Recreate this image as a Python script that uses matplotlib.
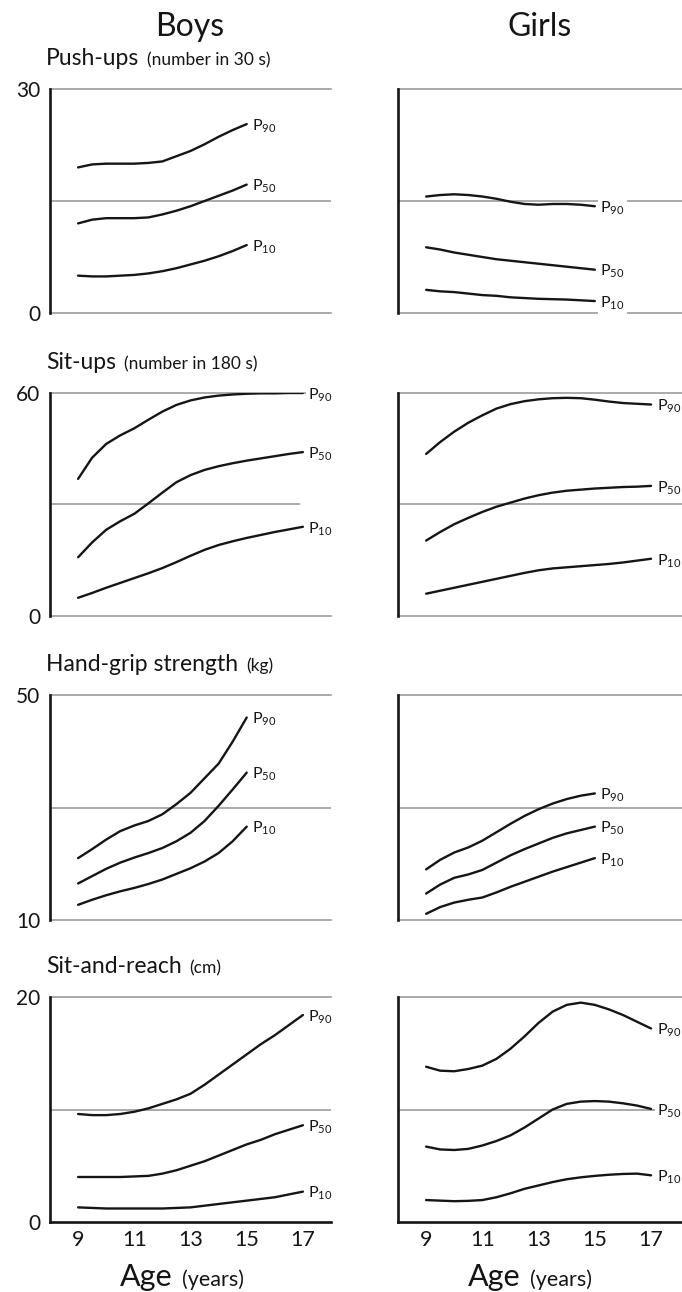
import matplotlib.pyplot as plt

W, H, DPI = 682, 1292, 100

plt.rcParams["font.family"] = ["Lato", "DejaVu Sans"]
plt.rcParams["mathtext.default"] = "regular"

INK = "#151515"
GRAY = "#9c9c9c"

AGE_9_15 = [9, 9.5, 10, 10.5, 11, 11.5, 12, 12.5, 13, 13.5, 14, 14.5, 15]
AGE_9_17 = [9, 9.5, 10, 10.5, 11, 11.5, 12, 12.5, 13, 13.5, 14, 14.5, 15,
            15.5, 16, 16.5, 17]
AGE_TICKS = [9, 11, 13, 15, 17]

# push-ups (number in 30 s)
PUSH_B_P90 = [19.5, 19.9, 20.0, 20.0, 20.0, 20.1, 20.3, 21.0, 21.7, 22.6, 23.6, 24.5, 25.3]
PUSH_B_P50 = [12.0, 12.5, 12.7, 12.7, 12.7, 12.8, 13.2, 13.7, 14.3, 15.0, 15.7, 16.4, 17.2]
PUSH_B_P10 = [5.0, 4.9, 4.9, 5.0, 5.1, 5.3, 5.6, 6.0, 6.5, 7.0, 7.6, 8.3, 9.1]
PUSH_G_P90 = [15.6, 15.8, 15.9, 15.8, 15.6, 15.3, 14.9, 14.6, 14.5, 14.6, 14.6, 14.5, 14.3]
PUSH_G_P50 = [8.8, 8.5, 8.1, 7.8, 7.5, 7.2, 7.0, 6.8, 6.6, 6.4, 6.2, 6.0, 5.8]
PUSH_G_P10 = [3.1, 2.9, 2.8, 2.6, 2.4, 2.3, 2.1, 2.0, 1.9, 1.85, 1.8, 1.7, 1.6]

# sit-ups (number in 180 s)
SIT_B_P90 = [36.9, 42.6, 46.3, 48.6, 50.5, 52.8, 55.0, 56.8, 58.0, 58.8, 59.3, 59.6, 59.8,
             59.9, 59.9, 60.0, 60.0]
SIT_B_P50 = [15.8, 19.8, 23.2, 25.5, 27.5, 30.3, 33.2, 36.0, 37.9, 39.3, 40.3, 41.1, 41.8,
             42.4, 43.0, 43.6, 44.1]
SIT_B_P10 = [4.9, 6.2, 7.6, 8.9, 10.2, 11.5, 12.9, 14.5, 16.2, 17.8, 19.1, 20.1, 21.0,
             21.8, 22.6, 23.3, 24.0]
SIT_G_P90 = [43.6, 46.8, 49.6, 52.0, 54.0, 55.8, 57.0, 57.8, 58.3, 58.6, 58.7, 58.6, 58.2,
             57.7, 57.3, 57.1, 56.9]
SIT_G_P50 = [20.3, 22.6, 24.7, 26.4, 28.0, 29.4, 30.5, 31.6, 32.5, 33.2, 33.7, 34.0, 34.3,
             34.5, 34.7, 34.8, 35.0]
SIT_G_P10 = [6.0, 6.8, 7.6, 8.4, 9.2, 10.0, 10.8, 11.6, 12.3, 12.8, 13.1, 13.4, 13.7,
             14.0, 14.4, 14.9, 15.4]

# hand-grip strength (kg)
GRIP_B_P90 = [21.0, 22.6, 24.3, 25.8, 26.8, 27.6, 28.8, 30.6, 32.6, 35.2, 37.8, 41.7, 46.0]
GRIP_B_P50 = [16.5, 17.8, 19.1, 20.2, 21.1, 21.9, 22.8, 24.0, 25.5, 27.6, 30.3, 33.2, 36.2]
GRIP_B_P10 = [12.7, 13.6, 14.4, 15.1, 15.7, 16.4, 17.2, 18.2, 19.2, 20.4, 21.9, 24.0, 26.6]
GRIP_G_P90 = [19.0, 20.7, 22.0, 22.9, 24.1, 25.6, 27.1, 28.5, 29.7, 30.7, 31.5, 32.1, 32.5]
GRIP_G_P50 = [14.7, 16.3, 17.5, 18.1, 18.9, 20.2, 21.5, 22.6, 23.6, 24.6, 25.4, 26.0, 26.6]
GRIP_G_P10 = [11.1, 12.3, 13.1, 13.6, 14.0, 14.9, 15.9, 16.8, 17.7, 18.6, 19.4, 20.2, 21.0]

# sit-and-reach (cm)
REACH_B_P90 = [9.6, 9.5, 9.5, 9.6, 9.8, 10.1, 10.5, 10.9, 11.4, 12.2, 13.1, 14.0, 14.9,
               15.8, 16.6, 17.5, 18.4]
REACH_B_P50 = [4.0, 4.0, 4.0, 4.0, 4.05, 4.1, 4.3, 4.6, 5.0, 5.4, 5.9, 6.4, 6.9,
               7.3, 7.8, 8.2, 8.6]
REACH_B_P10 = [1.3, 1.25, 1.2, 1.2, 1.2, 1.2, 1.2, 1.25, 1.3, 1.45, 1.6, 1.75, 1.9,
               2.05, 2.2, 2.45, 2.7]
REACH_G_P90 = [13.8, 13.45, 13.4, 13.6, 13.9, 14.5, 15.4, 16.5, 17.7, 18.7, 19.3, 19.5, 19.3,
               18.9, 18.4, 17.8, 17.2]
REACH_G_P50 = [6.7, 6.45, 6.4, 6.5, 6.8, 7.2, 7.7, 8.4, 9.2, 10.0, 10.5, 10.7, 10.75,
               10.7, 10.55, 10.35, 10.05]
REACH_G_P10 = [1.95, 1.9, 1.85, 1.88, 1.95, 2.2, 2.55, 2.95, 3.25, 3.55, 3.8, 3.97, 4.1,
               4.2, 4.27, 4.3, 4.15]

PANELS = [
    ("Push-ups", "(number in 30 s)", (0, 30), AGE_9_15,
     (PUSH_B_P90, PUSH_B_P50, PUSH_B_P10), AGE_9_15,
     (PUSH_G_P90, PUSH_G_P50, PUSH_G_P10)),
    ("Sit-ups", "(number in 180 s)", (0, 60), AGE_9_17,
     (SIT_B_P90, SIT_B_P50, SIT_B_P10), AGE_9_17,
     (SIT_G_P90, SIT_G_P50, SIT_G_P10)),
    ("Hand-grip strength", "(kg)", (10, 50), AGE_9_15,
     (GRIP_B_P90, GRIP_B_P50, GRIP_B_P10), AGE_9_15,
     (GRIP_G_P90, GRIP_G_P50, GRIP_G_P10)),
    ("Sit-and-reach", "(cm)", (0, 20), AGE_9_17,
     (REACH_B_P90, REACH_B_P50, REACH_B_P10), AGE_9_17,
     (REACH_G_P90, REACH_G_P50, REACH_G_P10)),
]
PCTS = ["90", "50", "10"]

# layout in pixels
ROWS = [(89, 313), (393, 616), (695, 920), (997, 1222)]
COLS = [(50, 331), (398, 682)]
XMAX = [18.0, 18.1]
MID_END = {(1, 0): 16.9}  # the middle rule stops short in the boys sit-ups panel


def px(x, y):
    return x / W, 1 - y / H


def two_part(fig, x, y, main, sub, size_main, size_sub, gap):
    fx, fy = px(x, y)
    t = fig.text(fx, fy, main, fontsize=size_main, va="baseline", ha="left", color=INK)
    bb = t.get_window_extent(renderer=fig.canvas.get_renderer())
    fig.text((bb.x1 + gap) / W, fy, sub, fontsize=size_sub, va="baseline", ha="left",
             color=INK)


fig = plt.figure(figsize=(W / DPI, H / DPI), dpi=DPI)

for r, (name, unit, (ylo, yhi), ages_b, boys, ages_g, girls) in enumerate(PANELS):
    top, bot = ROWS[r]
    last = r == len(PANELS) - 1
    for c, (ages, curves) in enumerate([(ages_b, boys), (ages_g, girls)]):
        x0, x1 = COLS[c]
        left, bottom = px(x0, bot)
        ax = fig.add_axes([left, bottom, (x1 - x0) / W, (bot - top) / H])
        ax.set_xlim(8, XMAX[c])
        ax.set_ylim(ylo, yhi)
        for s in ["top", "right", "bottom"]:
            ax.spines[s].set_visible(False)
        ax.spines["left"].set_linewidth(1.9)
        ax.spines["left"].set_color(INK)

        mid = (ylo + yhi) / 2
        ax.axhline(yhi, color=GRAY, lw=1.2, zorder=1, clip_on=False)
        end = MID_END.get((r, c))
        if end is None:
            ax.axhline(mid, color=GRAY, lw=1.2, zorder=1)
        else:
            ax.hlines(mid, 8, end, color=GRAY, lw=1.2, zorder=1)
        if last:
            ax.spines["bottom"].set_visible(True)
            ax.spines["bottom"].set_linewidth(1.9)
            ax.spines["bottom"].set_color(INK)
        else:
            ax.axhline(ylo, color=GRAY, lw=1.2, zorder=1, clip_on=False)

        for vals, p in zip(curves, PCTS):
            ax.plot(ages, vals, color=INK, lw=1.7, zorder=2, solid_capstyle="round",
                    solid_joinstyle="round")
            ax.annotate(f"$P_{{{p}}}$", xy=(ages[-1], vals[-1]), xytext=(4, -1.5),
                        textcoords="offset points", va="center", ha="left",
                        fontsize=11.5, color=INK, zorder=3, annotation_clip=False,
                        bbox=dict(fc="white", ec="none", pad=1.5))

        ax.set_yticks([ylo, yhi])
        ax.set_yticklabels([str(ylo), str(yhi)] if c == 0 else [])
        ax.tick_params(axis="y", length=0, pad=7, labelsize=15, labelcolor=INK)
        if last:
            ax.set_xticks(AGE_TICKS)
            ax.set_xticklabels([str(a) for a in AGE_TICKS])
            ax.tick_params(axis="x", length=0, pad=6, labelsize=15.5, labelcolor=INK)
        else:
            ax.set_xticks([])

    two_part(fig, 46, top - 24, name, unit, 16.5, 12.5, 8)

for x, txt in [(190, "Boys"), (540, "Girls")]:
    fx, fy = px(x, 36)
    fig.text(fx, fy, txt, fontsize=23, ha="center", va="baseline", color=INK)

for x0, _ in COLS:
    two_part(fig, x0 + 70, 1286, "Age", "(years)", 22, 15.5, 9)

fig.savefig("out.png", dpi=DPI, facecolor="white")
